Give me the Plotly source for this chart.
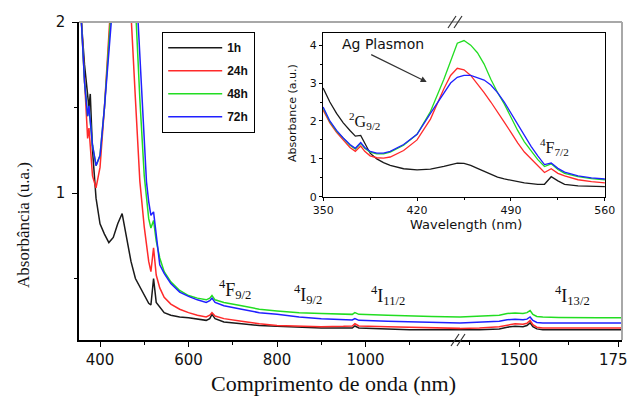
import plotly.graph_objects as go

# ---------------- data ----------------
series_names = ["1h", "24h", "48h", "72h"]
series_colors = ["#1a1a1a", "#ff2a2a", "#22dd22", "#2020ff"]

# main plot, left segment (nm)
main_wl_left = [352, 358, 365, 372, 375, 378, 383, 391, 400, 410,
                420, 430, 440, 450, 460, 470, 480, 490, 500, 505,
                510, 515, 521, 527, 535, 545, 560, 580, 600, 620,
                640, 648, 653, 660, 680, 720, 760, 800, 850, 900,
                950, 970, 976, 985, 1050, 1100, 1150, 1214]
main_left_1h = [2.6, 2.0, 1.75, 1.55, 1.5, 1.58, 1.25, 0.97, 0.82, 0.76,
                0.71, 0.74, 0.82, 0.88, 0.75, 0.60, 0.50, 0.45, 0.40, 0.375,
                0.355, 0.345, 0.50, 0.36, 0.33, 0.30, 0.285, 0.275, 0.27, 0.262,
                0.255, 0.265, 0.29, 0.265, 0.245, 0.235, 0.225, 0.22, 0.215, 0.21,
                0.21, 0.21, 0.222, 0.21, 0.205, 0.2, 0.2, 0.2]
main_left_24h = [2.3, 2.0, 1.6, 1.32, 1.38, 1.25, 1.1, 1.03, 1.15, 1.5,
                 2.0, 2.6, 3.0, 3.2, 3.0, 2.05, 1.55, 1.07, 0.80, 0.68,
                 0.6, 0.54, 0.68, 0.52, 0.445, 0.39, 0.35, 0.32, 0.30, 0.285,
                 0.275, 0.285, 0.30, 0.28, 0.265, 0.25, 0.235, 0.225, 0.22, 0.218,
                 0.22, 0.222, 0.235, 0.222, 0.218, 0.215, 0.21, 0.208]
main_left_48h = [2.3, 2.0, 1.65, 1.45, 1.5, 1.42, 1.28, 1.16, 1.22, 1.5,
                 1.85, 2.2, 2.7, 3.0, 3.0, 2.7, 2.1, 1.55, 1.1, 0.95,
                 0.85, 0.795, 0.84, 0.72, 0.62, 0.54, 0.48, 0.43, 0.40, 0.385,
                 0.375, 0.385, 0.40, 0.375, 0.36, 0.34, 0.32, 0.31, 0.30, 0.295,
                 0.29, 0.29, 0.30, 0.29, 0.285, 0.28, 0.278, 0.275]
main_left_72h = [2.3, 2.0, 1.65, 1.45, 1.51, 1.42, 1.28, 1.16, 1.22, 1.5,
                 1.85, 2.2, 2.6, 2.8, 2.8, 2.6, 2.3, 1.8, 1.3, 1.066,
                 0.95, 0.87, 0.89, 0.75, 0.58, 0.53, 0.47, 0.42, 0.395, 0.375,
                 0.36, 0.37, 0.385, 0.36, 0.34, 0.32, 0.30, 0.29, 0.275, 0.265,
                 0.258, 0.257, 0.265, 0.255, 0.25, 0.247, 0.243, 0.24]

# main plot, right segment (nm)
main_wl_right = [1351, 1400, 1450, 1470, 1490, 1510, 1520, 1528, 1535, 1545,
                 1560, 1600, 1650, 1700, 1760]
main_right_1h = [0.2, 0.2, 0.205, 0.215, 0.22, 0.218, 0.225, 0.24, 0.218, 0.205,
                 0.2, 0.2, 0.2, 0.2, 0.2]
main_right_24h = [0.208, 0.21, 0.218, 0.228, 0.235, 0.232, 0.238, 0.255, 0.23, 0.215,
                  0.21, 0.21, 0.21, 0.21, 0.21]
main_right_48h = [0.275, 0.278, 0.285, 0.295, 0.298, 0.295, 0.30, 0.312, 0.29, 0.278,
                  0.274, 0.272, 0.27, 0.27, 0.27]
main_right_72h = [0.24, 0.243, 0.25, 0.258, 0.262, 0.258, 0.262, 0.275, 0.255, 0.243,
                  0.24, 0.24, 0.24, 0.24, 0.24]

# inset
inset_wl = [350, 355, 360, 365, 370, 374, 378, 381, 385, 390,
            395, 400, 410, 420, 430, 440, 445, 450, 455, 460,
            465, 470, 475, 480, 485, 490, 495, 500, 505, 510,
            515, 520, 525, 530, 540, 550, 560]
inset_1h = [2.87, 2.5, 2.2, 1.95, 1.75, 1.6, 1.62, 1.4, 1.15, 1.0,
            0.9, 0.83, 0.74, 0.71, 0.73, 0.8, 0.85, 0.89, 0.88, 0.83,
            0.75, 0.67, 0.58, 0.52, 0.47, 0.43, 0.40, 0.37, 0.35, 0.33,
            0.33, 0.53, 0.42, 0.33, 0.29, 0.28, 0.27]
inset_24h = [2.29, 1.95, 1.7, 1.5, 1.3, 1.2, 1.34, 1.2, 1.08, 1.03,
             1.02, 1.05, 1.22, 1.5, 2.05, 2.85, 3.2, 3.39, 3.35, 3.2,
             2.98, 2.75, 2.5, 2.25, 1.97, 1.7, 1.42, 1.18, 1.0, 0.80,
             0.64, 0.74, 0.62, 0.55, 0.45, 0.40, 0.37]
inset_48h = [2.35, 1.98, 1.73, 1.53, 1.36, 1.26, 1.41, 1.28, 1.18, 1.13,
             1.13, 1.18, 1.36, 1.65, 2.25, 3.1, 3.6, 4.05, 4.12, 4.0,
             3.8, 3.5, 3.1, 2.75, 2.45, 2.1, 1.75, 1.45, 1.2, 0.98,
             0.80, 0.87, 0.72, 0.62, 0.53, 0.48, 0.45]
inset_72h = [2.37, 2.0, 1.75, 1.55, 1.38, 1.28, 1.43, 1.3, 1.2, 1.15,
             1.15, 1.2, 1.38, 1.65, 2.2, 2.75, 3.0, 3.15, 3.2, 3.2,
             3.15, 3.08, 2.95, 2.75, 2.5, 2.2, 1.9, 1.6, 1.33, 1.08,
             0.85, 0.89, 0.75, 0.65, 0.55, 0.50, 0.47]

main_left_ticks = [400, 600, 800, 1000]
main_left_minor = [500, 700, 900, 1100]
main_right_ticks = [1500, 1750]
main_right_minor = [1375, 1625]

main_left_vals = [main_left_1h, main_left_24h, main_left_48h, main_left_72h]
main_right_vals = [main_right_1h, main_right_24h, main_right_48h, main_right_72h]
inset_vals = [inset_1h, inset_24h, inset_48h, inset_72h]

# ---------------- geometry helpers ----------------
W, H = 627, 401
L, R, T, B = 79, 5, 22, 61
PW, PH = W - L - R, H - T - B


def px(x):
    return (x - L) / PW


def py(y):
    return (H - B - y) / PH


XB = px(460)

SANS = "DejaVu Sans, Arial, sans-serif"
SERIF = "Liberation Serif, Times New Roman, serif"

fig = go.Figure()
for name, col, yl, yr, yi in zip(series_names, series_colors,
                                  main_left_vals, main_right_vals, inset_vals):
    fig.add_trace(go.Scatter(x=main_wl_left, y=yl, mode="lines", name=name,
                             legendgroup=name, line=dict(color=col, width=1.5),
                             xaxis="x", yaxis="y"))
    fig.add_trace(go.Scatter(x=main_wl_right, y=yr, mode="lines", name=name,
                             legendgroup=name, showlegend=False,
                             line=dict(color=col, width=1.5),
                             xaxis="x2", yaxis="y"))
    fig.add_trace(go.Scatter(x=inset_wl, y=yi, mode="lines", name=name,
                             legendgroup=name, showlegend=False,
                             line=dict(color=col, width=1.3),
                             xaxis="x3", yaxis="y3"))

main_tick_font = dict(family=SANS, size=15, color="#111")
axis_common = dict(showline=True, linecolor="black", linewidth=1.5,
                   ticks="outside", ticklen=5, tickwidth=1.2, tickcolor="black",
                   showgrid=False, zeroline=False, automargin=False,
                   ticklabeloverflow="allow")
inset_common = dict(showline=True, linecolor="black", linewidth=1.2, mirror=True,
                    ticks="outside", ticklen=3, tickwidth=1, tickcolor="black",
                    showgrid=False, zeroline=False, automargin=False,
                    ticklabeloverflow="allow",
                    tickfont=dict(family=SANS, size=11, color="#111"))

fig.update_layout(
    width=W, height=H,
    margin=dict(l=L, r=R, t=T, b=B, autoexpand=False),
    paper_bgcolor="white", plot_bgcolor="white",
    xaxis=dict(domain=[0, XB], range=[352.5, 1213.5], anchor="y",
               tickmode="array", tickvals=main_left_ticks,
               ticktext=[str(v) for v in main_left_ticks], tickfont=main_tick_font,
               minor=dict(tickmode="array", tickvals=main_left_minor,
                          ticks="outside", ticklen=3, tickcolor="black"),
               **axis_common),
    xaxis2=dict(domain=[XB, 1], range=[1351, 1760], anchor="y",
                tickmode="array", tickvals=main_right_ticks,
                ticktext=[str(v) for v in main_right_ticks], tickfont=main_tick_font,
                minor=dict(tickmode="array", tickvals=main_right_minor,
                           ticks="outside", ticklen=3, tickcolor="black"),
                **axis_common),
    yaxis=dict(domain=[0, 1], range=[0.14, 2.001], anchor="x",
               dtick=1, tick0=0, tickfont=main_tick_font, ticklabelstandoff=4,
               minor=dict(dtick=0.5, tick0=0, ticks="outside", ticklen=3,
                          tickcolor="black"),
               **axis_common),
    xaxis3=dict(domain=[px(323), px(605)], range=[349.9, 560.1], anchor="y3",
                dtick=70, tick0=350,
                minor=dict(dtick=35, tick0=350, ticks="outside", ticklen=2,
                           tickcolor="black"),
                **inset_common),
    yaxis3=dict(domain=[py(197), py(33)], range=[-0.005, 4.32], anchor="x3",
                dtick=1, tick0=0,
                minor=dict(dtick=0.5, tick0=0, ticks="outside", ticklen=2,
                           tickcolor="black"),
                **inset_common),
    legend=dict(x=px(162), y=py(32), xanchor="left", yanchor="top",
                bgcolor="white", bordercolor="black", borderwidth=1.2,
                font=dict(family="Arial, Liberation Sans, sans-serif", size=12,
                          color="#111", weight="bold"),
                tracegroupgap=4, itemwidth=54, traceorder="grouped"),
    showlegend=True,
)

shapes = []
# grey top / right frame
shapes.append(dict(type="line", xref="paper", yref="paper", x0=0, x1=1, y0=1, y1=1,
                   line=dict(color="#a8a8a8", width=2)))
shapes.append(dict(type="line", xref="paper", yref="paper", x0=1, x1=1, y0=0, y1=1,
                   line=dict(color="#a8a8a8", width=2)))
# axis break marks
for cx, cy in [(458, 340), (455, 22)]:
    for dx in (-3, 3):
        shapes.append(dict(type="line", xref="paper", yref="paper",
                           x0=px(cx + dx - 4), y0=py(cy + 6),
                           x1=px(cx + dx + 4), y1=py(cy - 6),
                           line=dict(color="#333", width=1.2)))
fig.update_layout(shapes=shapes)


def label(text, x, y, font, angle=0):
    return dict(text=text, xref="paper", yref="paper", x=px(x), y=py(y),
                xanchor="center", yanchor="middle", showarrow=False,
                textangle=angle, font=font)


ann = []
ann.append(label("Comprimento de onda (nm)", 333, 383,
                 dict(family=SERIF, size=22, color="#111")))
ann.append(label("Absorbância (u.a.)", 23, 225,
                 dict(family=SERIF, size=17, color="#111"), -90))
ann.append(label("Absorbance (a.u.)", 292, 113,
                 dict(family=SANS, size=11, color="#111"), -90))
ann.append(label("Wavelength (nm)", 466, 224,
                 dict(family=SANS, size=13, color="#111")))
# level labels in main plot
for txt, x, y in [("<sup>4</sup>F<sub>9/2</sub>", 235, 289),
                  ("<sup>4</sup>I<sub>9/2</sub>", 308, 294),
                  ("<sup>4</sup>I<sub>11/2</sub>", 388, 295),
                  ("<sup>4</sup>I<sub>13/2</sub>", 572, 295)]:
    ann.append(label(txt, x, y, dict(family=SERIF, size=18, color="#111")))
# level labels in inset
for txt, x, y in [("<sup>2</sup>G<sub>9/2</sub>", 364, 121),
                  ("<sup>4</sup>F<sub>7/2</sub>", 554, 147)]:
    ann.append(label(txt, x, y, dict(family=SERIF, size=16, color="#111")))
ann.append(dict(text="Ag Plasmon", xref="x3", yref="y3", x=394.7, y=4.03,
                xanchor="center", yanchor="middle",
                showarrow=False, font=dict(family=SANS, size=14, color="#111")))
ann.append(dict(text="", xref="x3", yref="y3", x=427.2, y=3.03,
                ax=-57, ay=-28, showarrow=True, arrowhead=2, arrowsize=1,
                arrowwidth=1.2, arrowcolor="#333"))
fig.update_layout(annotations=ann)

fig.write_html("out.html")
